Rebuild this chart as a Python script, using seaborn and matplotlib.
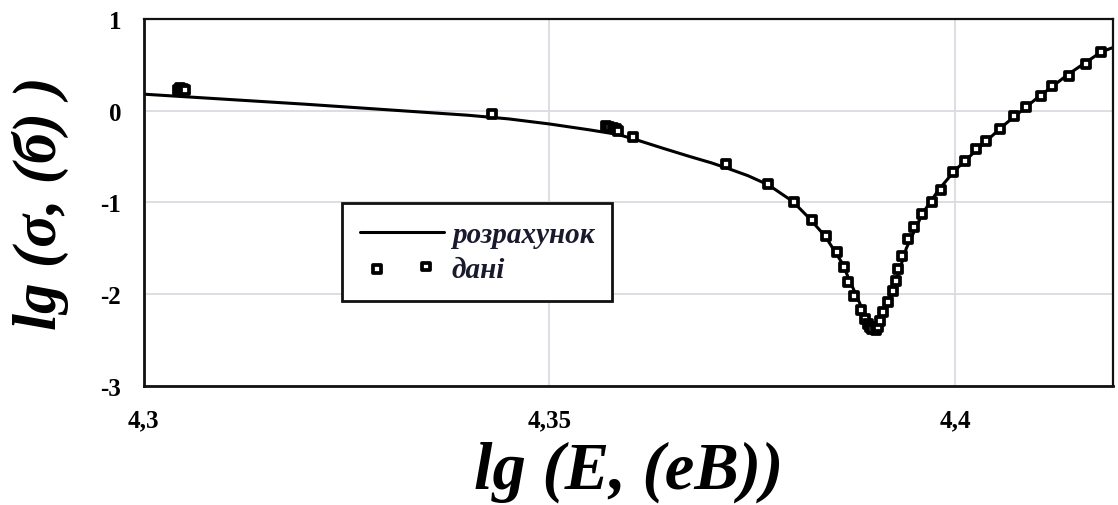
import matplotlib
matplotlib.use("Agg")
import matplotlib.pyplot as plt
from matplotlib.ticker import FuncFormatter
from matplotlib.collections import PathCollection
from matplotlib.legend_handler import HandlerPathCollection
import seaborn as sns
import pandas as pd

# ---- data ----
calc_x = [4.300, 4.310, 4.320, 4.330, 4.340, 4.345, 4.350, 4.355, 4.3585, 4.3608,
          4.364, 4.3673, 4.370, 4.372, 4.3745, 4.377, 4.380, 4.382, 4.384, 4.386,
          4.388, 4.389, 4.3900, 4.391, 4.392, 4.393, 4.394, 4.396, 4.398, 4.400,
          4.403, 4.406, 4.410, 4.414, 4.418, 4.4195]
calc_y = [0.18, 0.125, 0.07, 0.01, -0.05, -0.09, -0.145, -0.21, -0.26, -0.32,
          -0.41, -0.50, -0.57, -0.63, -0.71, -0.81, -0.99, -1.17, -1.37, -1.65,
          -2.05, -2.25, -2.38, -2.25, -2.05, -1.78, -1.50, -1.12, -0.86, -0.65,
          -0.40, -0.16, 0.13, 0.40, 0.64, 0.69]

data_x = [4.3042, 4.3045, 4.3048, 4.3051,
          4.3429,
          4.3570, 4.3574, 4.3578, 4.3582, 4.3585, 4.3603,
          4.3718, 4.3770, 4.3801, 4.3824, 4.3841, 4.3854, 4.3863, 4.3868,
          4.3876, 4.3884, 4.3889, 4.3893, 4.3895, 4.3898, 4.3902, 4.3905,
          4.3907, 4.3911, 4.3917, 4.3924, 4.3927, 4.3930, 4.3934, 4.3942,
          4.3950, 4.3959, 4.3971, 4.3983, 4.3998, 4.4012, 4.4026, 4.4038,
          4.4055, 4.4073, 4.4088, 4.4106, 4.4120, 4.4141, 4.4161, 4.4180]
data_y = [0.23, 0.25, 0.24, 0.22,
          -0.04,
          -0.17, -0.18, -0.19, -0.20, -0.22, -0.29,
          -0.58, -0.80, -1.00, -1.19, -1.37, -1.54, -1.71, -1.87,
          -2.02, -2.17, -2.27, -2.33, -2.36, -2.38, -2.39, -2.36,
          -2.29, -2.20, -2.09, -1.97, -1.86, -1.73, -1.58, -1.40,
          -1.27, -1.13, -1.00, -0.86, -0.67, -0.55, -0.42, -0.33,
          -0.20, -0.06, 0.04, 0.16, 0.27, 0.38, 0.51, 0.64]

x_ticks = [4.30, 4.35, 4.40]
y_ticks = [-3, -2, -1, 0, 1]
label_calc = "розрахунок"
label_data = "дані"
x_label = "lg (E, (eB))"
y_label = "lg (σ, (б) )"

calc_df = pd.DataFrame({"x": calc_x, "y": calc_y})
data_df = pd.DataFrame({"x": data_x, "y": data_y})

sns.set_theme(style="whitegrid")
plt.rcParams["font.family"] = ["Liberation Serif", "DejaVu Serif"]

fig = plt.figure(figsize=(11.18, 5.06), dpi=100)
ax = fig.add_axes([0.1284, 0.2358, 0.8674, 0.7247])

sns.lineplot(data=calc_df, x="x", y="y", ax=ax, color="black", linewidth=2.2,
             label=label_calc, sort=False, estimator=None)
sns.scatterplot(data=data_df, x="x", y="y", ax=ax, marker="s", s=30,
                facecolor="white", edgecolor="black", linewidth=2.7,
                label=label_data, zorder=3)

ax.set_xlim(4.3, 4.4195)
ax.set_ylim(-3, 1)
ax.set_xticks(x_ticks)
ax.set_yticks(y_ticks)
ax.xaxis.set_major_formatter(FuncFormatter(lambda v, p: f"{v:g}".replace(".", ",")))
ax.yaxis.set_major_formatter(FuncFormatter(lambda v, p: f"{v:g}"))

ax.grid(True, color="#dcd9e2", linewidth=1.3)
ax.set_facecolor("white")
for side, sp in ax.spines.items():
    sp.set_visible(True)
    sp.set_color("#111111")
    sp.set_linewidth(2.0 if side in ("left", "bottom") else 1.6)

ax.tick_params(axis="both", length=0)
ax.tick_params(axis="x", pad=16)
ax.tick_params(axis="y", pad=16)
for lab in ax.get_xticklabels() + ax.get_yticklabels():
    lab.set_fontweight("bold")
    lab.set_fontsize(18)
    lab.set_color("black")

ax.set_xlabel(x_label, fontsize=48, fontweight="bold", fontstyle="italic",
              color="black", labelpad=7)
ax.set_ylabel(y_label, fontsize=44, fontweight="bold", fontstyle="italic",
              color="black", labelpad=23)

leg = ax.legend(loc="lower left", bbox_to_anchor=(0.2043, 0.232), borderaxespad=0,
                frameon=True, fancybox=False, shadow=False, scatterpoints=2,
                handlelength=2.88, handletextpad=0.27, borderpad=0.62,
                labelspacing=0.25,
                handler_map={PathCollection: HandlerPathCollection(marker_pad=0.6)},
                prop={"family": "Liberation Serif", "weight": "bold",
                      "style": "italic", "size": 21})
frame = leg.get_frame()
frame.set_edgecolor("#111111")
frame.set_linewidth(2.0)
frame.set_alpha(1)
for t in leg.get_texts():
    t.set_color("#1a1a2e")

fig.savefig("out.png", dpi=100, facecolor="white")
